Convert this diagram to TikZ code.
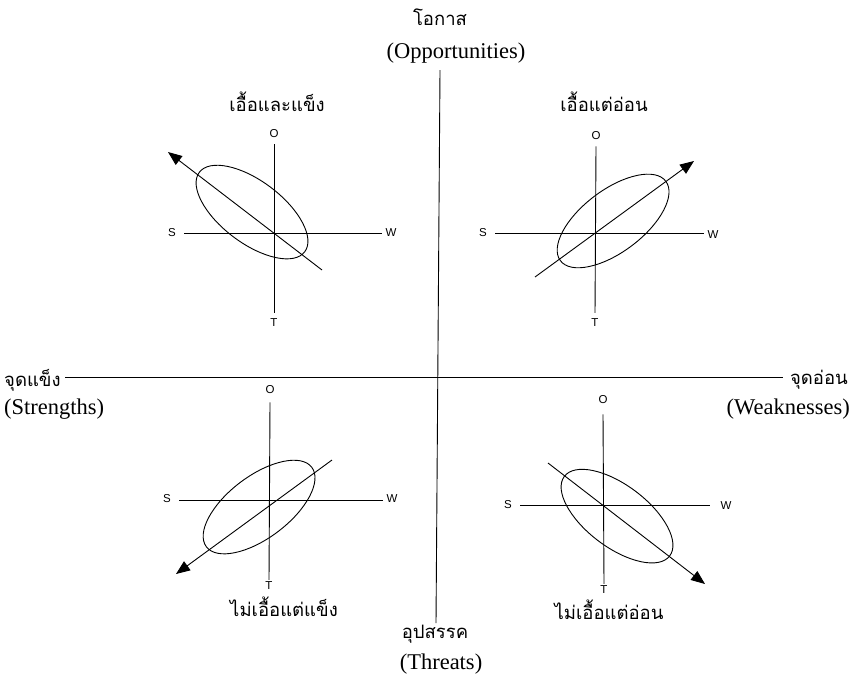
\documentclass[tikz,border=0pt]{standalone}
\usepackage{fontspec}
\setmainfont{Liberation Serif}
\setsansfont{Liberation Sans}
\newfontfamily\thaifont[Script=Thai]{Loma}
\usetikzlibrary{arrows.meta}
\begin{document}
\begin{tikzpicture}[x=1pt,y=-1pt,
  ln/.style={line width=0.9pt},
  thl/.style={font=\thaifont\fontsize{18.5}{20}\selectfont, inner sep=0pt},
  enl/.style={font=\fontsize{22.5}{25}\selectfont, inner sep=0pt},
  axl/.style={font=\sffamily\fontsize{11.5}{13}\selectfont, inner sep=0pt},
  ell/.style={line width=0.9pt},
  arr/.style={line width=0.9pt,-{Triangle[length=14pt,width=11pt]}}]
\useasboundingbox (0,0) rectangle (850,681);
% main axes and labels
\node[thl] (opp) at (440,17) {โอกาส};
\node[enl] (oppe) at (456,53) {(Opportunities)};
\node[thl] (thr) at (435,634) {อุปสรรค};
\node[enl] (thre) at (441,664) {(Threats)};
\node[thl, anchor=west] (str) at (4,380) {จุดแข็ง};
\node[enl, anchor=west] (stre) at (4,409) {(Strengths)};
\node[thl, anchor=east] (wk) at (848,380) {จุดอ่อน};
\node[enl, anchor=east] (wke) at (850,409) {(Weaknesses)};
\coordinate (vt) at (440,70);
\coordinate (vb) at (436,623);
\coordinate (hl) at (65,377);
\coordinate (hr) at (783,377);
\draw[ln] (vt) -- (vb);
\draw[ln] (hl) -- (hr);
% ---- top left
\node[thl] (tlt) at (277,102) {เอื้อและแข็ง};
\node[axl] (tlO) at (274,134) {O};
\node[axl] (tlT) at (274,323) {T};
\node[axl] (tlS) at (172,233) {S};
\node[axl] (tlW) at (391,233) {W};
\draw[ln] (tlO.south) ++(0,6) coordinate (tlv1) (tlT.north) ++(0,-6) coordinate (tlv2);
\draw[ln] (tlv1) -- (tlv2);
\draw[ln] (tlS.east) ++(8,0) coordinate (tlh1) (tlW.west) ++(-3,0) coordinate (tlh2);
\draw[ln] (tlh1) -- (tlh2);
\coordinate (tle) at (252,212);
\draw[ell, rotate around={-37:(tle)}] (tle) ellipse [x radius=66, y radius=31];
\coordinate (tla1) at (322,270);
\coordinate (tla2) at (168,152);
\draw[arr] (tla1) -- (tla2);
% ---- top right
\node[thl] (trt) at (604,102) {เอื้อแต่อ่อน};
\node[axl] (trO) at (596,136) {O};
\node[axl] (trT) at (595,323) {T};
\node[axl] (trS) at (483,233) {S};
\node[axl] (trW) at (713,235) {W};
\draw[ln] (trO.south) ++(0,6) coordinate (trv1) (trT.north) ++(0,-6) coordinate (trv2);
\draw[ln] (trv1) -- (trv2);
\draw[ln] (trS.east) ++(8,0) coordinate (trh1) (trW.west) ++(-3,-2) coordinate (trh2);
\draw[ln] (trh1) -- (trh2);
\coordinate (tre) at (613,221);
\draw[ell, rotate around={37:(tre)}] (tre) ellipse [x radius=66, y radius=31];
\coordinate (tra1) at (535,277);
\coordinate (tra2) at (694,161);
\draw[arr] (tra1) -- (tra2);
% ---- bottom left
\node[thl] (blt) at (284,607) {ไม่เอื้อแต่แข็ง};
\node[axl] (blO) at (270,390) {O};
\node[axl] (blT) at (269,586) {T};
\node[axl] (blS) at (167,499) {S};
\node[axl] (blW) at (392,499) {W};
\draw[ln] (blO.south) ++(0,8) coordinate (blv1) (blT.north) ++(0,-2) coordinate (blv2);
\draw[ln] (blv1) -- (blv2);
\draw[ln] (blS.east) ++(8,1) coordinate (blh1) (blW.west) ++(-3,1) coordinate (blh2);
\draw[ln] (blh1) -- (blh2);
\coordinate (ble) at (259,507);
\draw[ell, rotate around={37:(ble)}] (ble) ellipse [x radius=66, y radius=31];
\coordinate (bla1) at (332,460);
\coordinate (bla2) at (176,574);
\draw[arr] (bla1) -- (bla2);
% ---- bottom right
\node[thl] (brt) at (609,610) {ไม่เอื้อแต่อ่อน};
\node[axl] (brO) at (603,400) {O};
\node[axl] (brT) at (604,590) {T};
\node[axl] (brS) at (508,505) {S};
\node[axl] (brW) at (726,506) {W};
\draw[ln] (brO.south) ++(0,10) coordinate (brv1) (brT.north) ++(0,-2) coordinate (brv2);
\draw[ln] (brv1) -- (brv2);
\draw[ln] (brS.east) ++(8,0) coordinate (brh1) (brW.west) ++(-10,-1) coordinate (brh2);
\draw[ln] (brh1) -- (brh2);
\coordinate (bre) at (617,516);
\draw[ell, rotate around={-37:(bre)}] (bre) ellipse [x radius=66, y radius=31];
\coordinate (bra1) at (548,463);
\coordinate (bra2) at (705,584);
\draw[arr] (bra1) -- (bra2);
\end{tikzpicture}
\end{document}
